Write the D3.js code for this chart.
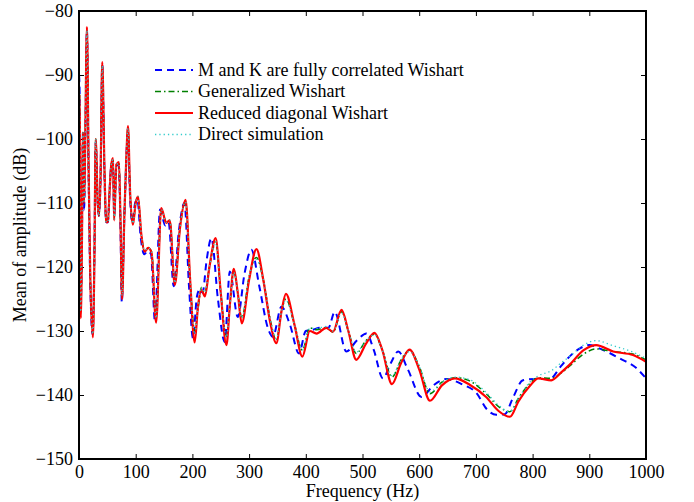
<!DOCTYPE html>
<html>
<head>
<meta charset="utf-8">
<script src="https://cdn.jsdelivr.net/npm/d3@7"></script>
<style>
  body { margin: 0; background: #fff; }
  text { font-family: "Liberation Serif", "Times New Roman", serif; }
</style>
</head>
<body>
<script>
// frequencies (Hz) shared by the reduced / generalized / direct series
const freqA = [0,1,3,5,7,9,11,14,17,20,24.5,27,29.5,33,35,38,41,45,48,51,54,57,60,62,66,70.5,73,76,80,83,86.5,90,95,100,104,110,116,122,128,136,145,154,160,169,178,188,196,204,210,216,222,230,241,250,260,266,273,280,287,300,313,325,338,348,357,365,380,394,407,419,436,448,463,475,489,506,521,535,552,568,583,600,619,640,663,689,718,740,760,775,795,810,833,850,865,890,912,942,977,1000]

const reducedDiag = [-96,-93,-128,-118,-99,-110,-100,-82.5,-105,-122,-131,-120,-100,-110,-112,-106,-88,-105,-113,-113,-108,-104,-103,-112.7,-104,-103.6,-112,-125,-112,-104,-98,-108,-113.4,-110,-109,-115,-117.6,-117,-117.8,-128.7,-110.8,-113.1,-112.7,-122.8,-114,-109.5,-122,-131.8,-126,-123.6,-124.6,-120,-115.5,-124,-132.2,-126,-120.3,-124,-128.8,-122,-117.2,-122,-129,-131.9,-127,-124.2,-129,-134,-130,-130.4,-129.5,-130.1,-126.7,-130,-134.5,-132,-130.3,-133,-138.3,-135,-132.9,-136,-140.9,-138.5,-137.4,-138.4,-140.3,-142.5,-143.4,-141,-138.6,-137.4,-137.7,-136.5,-135.3,-133,-132.2,-133.2,-133.75,-134.8]

const generalized = [-95,-93,-127,-118,-99,-110,-100,-83,-105,-122,-130.5,-120,-100,-110,-112,-106,-88.5,-105,-113,-113,-108,-104,-103.2,-112.5,-104,-103.8,-112,-124.5,-112,-104,-98.3,-108,-113.2,-110,-109,-115,-117.4,-117,-117.6,-128,-111,-113,-112.7,-122.5,-114,-109.8,-122,-130,-126.5,-123.2,-124,-120,-116,-124,-131,-126,-120.6,-124,-128,-121.5,-118.5,-122,-128.5,-131.5,-127,-125,-129,-133,-129.5,-129.8,-129.5,-130.2,-127,-130,-133.5,-131.5,-130.5,-133,-137.2,-134.5,-133,-135.5,-139.8,-138,-137.3,-137.8,-139.8,-141.8,-142.6,-140.5,-138.2,-137.3,-137.4,-136.6,-135.5,-133.6,-132.8,-133.2,-133.6,-134.5]

const direct = [-89,-92,-127,-118,-99,-110,-100,-83,-105,-122,-130.5,-120,-100,-110,-112,-106,-88.5,-105,-113,-113,-108,-104,-103.2,-112.5,-104,-103.8,-112,-124.5,-112,-104,-98.3,-108,-113.2,-110,-109,-115,-117.4,-117,-117.6,-128,-111,-113,-112.7,-122.5,-114,-109.8,-122,-130.5,-126,-123.4,-124,-120,-116,-124,-131,-126,-120.8,-124,-128,-121.5,-118.8,-122,-128.5,-131.2,-127,-125.2,-129,-133,-129.6,-129.6,-129.3,-130,-127.2,-130,-133.3,-131.5,-130.6,-133,-137,-134.5,-133.2,-135.5,-139.5,-138,-137.2,-137.6,-139.6,-141.6,-142.6,-140.5,-138,-137,-136.2,-135,-134,-132.2,-131.5,-132.3,-133.3,-134.3]

// fully correlated Wishart has its own frequency grid (slightly shifted peaks)
const freqB = [0,1,3,5,7,9,11,14,17,20,24,27,29.5,33,35,38,41,45,48,51,54,57,60,62,66,70,73,75.5,80,83,86,90,94,99,103,109,115,121,127,134,143,152,158,167,176,186,194,201,208,213,218,225,233.5,245,257,266,280,292,304,318,333,342,357,372,388,400,412,425,440,451,471.5,490,507,520,536,550,563,580,604,625,648,675,701,720,736,751,765,783,804,830,850,865,882,900,920,954,983,1000]

const fullyCorr = [-90,-92,-126,-117,-99,-111,-101,-83,-106,-123,-130.5,-119,-100.5,-110,-112,-106,-88.5,-106,-113,-113,-108,-104,-103.5,-112,-104.5,-104,-113,-125.5,-112,-104.5,-98.5,-109,-113,-110,-109.5,-115.5,-118,-117.5,-118,-128.5,-111,-113.5,-113,-123,-114.5,-110,-123,-131.1,-124.6,-123.5,-124,-119,-115.5,-125,-131.7,-120.7,-127.8,-121,-117.3,-123,-129.5,-130.9,-126.2,-129,-133.5,-130,-129.8,-129.5,-129.5,-127,-133.2,-131.5,-130.4,-133,-137.4,-135,-133.2,-136,-140.3,-138.5,-137.5,-138.3,-139.7,-142.3,-143.1,-143,-140.5,-137.7,-137.5,-137.5,-135.5,-134,-132.8,-132.2,-132.8,-134.3,-135.8,-137.4]

const xTicks = [0,100,200,300,400,500,600,700,800,900,1000]
const yTicks = [-150,-140,-130,-120,-110,-100,-90,-80]

const series = [
    { name: 'M and K are fully correlated Wishart', f: freqB, v: fullyCorr, color: '#0000ff', width: 2, dash: '7,5' },
    { name: 'Generalized Wishart', f: freqA, v: generalized, color: '#008000', width: 1.5, dash: '6,3,1.5,3' },
    { name: 'Reduced diagonal Wishart', f: freqA, v: reducedDiag, color: '#ff0000', width: 2.2, dash: null },
    { name: 'Direct simulation', f: freqA, v: direct, color: '#33cccc', width: 1.3, dash: '1.3,3' }
]

const margin = { top: 11, right: 48, bottom: 43, left: 79 }
const W = 694, H = 502
const width = W - margin.left - margin.right
const height = H - margin.top - margin.bottom
const fs = '18px'

const svg = d3.select('body').append('svg')
    .attr('width', W)
    .attr('height', H)
    .style('background-color', 'white')

const g = svg.append('g')
    .attr('transform', `translate(${margin.left}, ${margin.top})`)

const xScale = d3.scaleLinear().domain([0, 1000]).range([0, width])
const yScale = d3.scaleLinear().domain([-150, -80]).range([height, 0])

g.append('clipPath').attr('id', 'clip')
    .append('rect').attr('width', width).attr('height', height)

const fmt = d => d < 0 ? '\u2212' + Math.abs(d) : d

// axes with inward ticks on all four sides
const axStyle = sel => {
    sel.select('.domain').remove()
    sel.selectAll('line').attr('stroke', '#000').attr('stroke-width', 1)
    sel.selectAll('text').style('font-size', fs).attr('fill', '#000')
}
g.append('g')
    .attr('transform', `translate(0, ${height})`)
    .call(d3.axisBottom(xScale).tickValues(xTicks).tickSize(-5).tickPadding(6).tickFormat(fmt))
    .call(axStyle)
g.append('g')
    .call(d3.axisTop(xScale).tickValues(xTicks).tickSize(-5).tickFormat(''))
    .call(axStyle)
g.append('g')
    .call(d3.axisLeft(yScale).tickValues(yTicks).tickSize(-5).tickPadding(6).tickFormat(fmt))
    .call(axStyle)
g.append('g')
    .attr('transform', `translate(${width}, 0)`)
    .call(d3.axisRight(yScale).tickValues(yTicks).tickSize(-5).tickFormat(''))
    .call(axStyle)

const line = d3.line()
    .x(d => xScale(d[0]))
    .y(d => yScale(d[1]))
    .curve(d3.curveMonotoneX)

const plot = g.append('g').attr('clip-path', 'url(#clip)')
series.forEach(s => {
    plot.append('path')
        .datum(s.f.map((f, i) => [f, s.v[i]]))
        .attr('fill', 'none')
        .attr('stroke', s.color)
        .attr('stroke-width', s.width)
        .attr('stroke-dasharray', s.dash)
        .attr('stroke-linejoin', 'round')
        .attr('d', line)
})

// frame
g.append('rect')
    .attr('width', width).attr('height', height)
    .attr('fill', 'none').attr('stroke', '#000').attr('stroke-width', 2)

// legend (no box)
const legend = g.append('g').attr('transform', 'translate(76, 59)')
series.forEach((s, i) => {
    const row = legend.append('g').attr('transform', `translate(0, ${i * 21.5})`)
    row.append('line')
        .attr('x1', 0).attr('x2', 38)
        .attr('stroke', s.color)
        .attr('stroke-width', s.width)
        .attr('stroke-dasharray', s.dash)
    row.append('text')
        .attr('x', 43).attr('dy', '0.33em')
        .style('font-size', fs)
        .text(s.name)
})

svg.append('text')
    .attr('x', margin.left + width / 2).attr('y', 497)
    .style('text-anchor', 'middle').style('font-size', fs)
    .text('Frequency (Hz)')

svg.append('text')
    .attr('transform', `translate(26, ${margin.top + height / 2}) rotate(-90)`)
    .style('text-anchor', 'middle').style('font-size', fs)
    .text('Mean of amplitude (dB)')
</script>
</body>
</html>
